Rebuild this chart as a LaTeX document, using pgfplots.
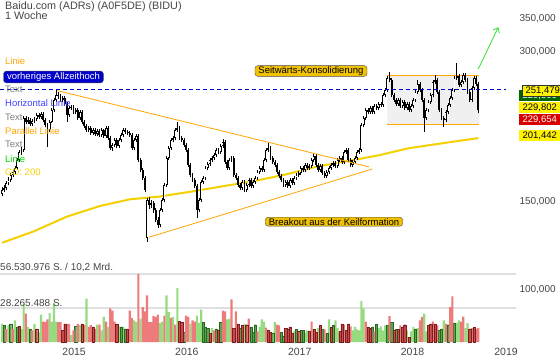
\documentclass[border=0pt]{standalone}
\usepackage{pgfplots}
\pgfplotsset{compat=1.18}
\usepackage{pgfplotstable}
\usepackage{fontspec}
\setmainfont{Liberation Sans}
\usetikzlibrary{arrows.meta}
\definecolor{gd}{HTML}{F5D000}
\definecolor{org}{HTML}{FFA500}
\definecolor{lg}{HTML}{96DC7E}
\definecolor{dg}{HTML}{55A84A}
\definecolor{dgo}{HTML}{2A6424}
\definecolor{lr}{HTML}{EE7B7B}
\definecolor{dr}{HTML}{C64A4A}
\definecolor{dro}{HTML}{7A1E1E}
\definecolor{txt}{HTML}{454545}
\definecolor{hblue}{HTML}{0000CC}
\definecolor{agreen}{HTML}{33E033}
\definecolor{boxyel}{HTML}{F2C200}
\pgfplotstableread{
i o h l c
0 156.0 160.5 154.0 158.6
1 158.6 162.0 156.8 160.1
2 160.1 165.5 158.5 163.8
3 163.8 168.0 162.0 166.1
4 166.1 171.8 164.5 169.9
5 169.9 174.2 168.0 172.3
6 172.3 177.5 170.5 175.5
7 175.5 184.0 173.8 182.1
8 182.1 191.0 180.5 188.9
9 188.9 193.0 186.5 190.7
10 190.7 223.0 189.0 221.0
11 221.0 223.5 215.0 217.0
12 217.0 221.5 215.2 219.0
13 219.0 220.8 212.8 215.0
14 215.0 220.0 213.0 218.0
15 218.0 222.3 216.0 220.0
16 220.0 226.5 218.2 224.1
17 224.1 226.0 219.8 222.0
18 222.0 227.5 220.0 225.1
19 225.1 226.8 217.0 219.0
20 219.0 220.5 211.8 214.0
21 214.0 215.5 193.5 209.1
22 209.1 218.8 207.5 217.0
23 217.0 231.0 215.5 229.3
24 229.3 242.5 227.5 240.1
25 240.1 251.5 238.0 245.7
26 245.7 249.5 241.5 244.6
27 244.6 246.5 237.8 240.1
28 240.1 244.8 238.0 242.3
29 242.3 244.0 233.5 235.7
30 235.7 237.5 217.0 224.1
31 224.1 233.5 222.0 231.4
32 231.4 235.0 229.0 232.5
33 232.5 234.3 225.0 227.2
34 227.2 231.5 225.0 229.3
35 229.3 231.0 218.8 221.0
36 221.0 229.5 219.0 227.2
37 227.2 229.0 214.8 217.0
38 217.0 218.8 210.8 213.0
39 213.0 214.8 207.0 209.1
40 209.1 213.2 207.2 211.0
41 211.0 212.5 204.2 206.2
42 206.2 211.2 204.5 209.1
43 209.1 210.8 203.0 205.2
44 205.2 210.0 203.5 208.1
45 208.1 209.8 202.2 204.3
46 204.3 211.0 202.8 209.1
47 209.1 210.5 201.5 203.4
48 203.4 213.0 201.8 211.0
49 211.0 212.5 199.5 201.5
50 201.5 203.0 190.5 192.4
51 192.4 197.0 190.0 195.1
52 195.1 201.8 193.5 199.7
53 199.7 201.2 192.0 194.2
54 194.2 201.5 192.5 199.7
55 199.7 206.2 198.0 204.3
56 204.3 211.0 202.8 209.1
57 209.1 210.8 205.3 207.2
58 207.2 209.0 204.2 206.2
59 206.2 208.0 202.5 204.3
60 204.3 206.0 190.5 192.4
61 192.4 201.5 190.8 199.7
62 199.7 205.5 197.8 203.4
63 203.4 205.0 180.0 182.1
64 182.1 183.8 172.0 173.9
65 173.9 175.5 165.8 167.6
66 167.6 169.0 156.8 158.6
67 127.0 153.0 124.8 151.4
68 151.4 153.5 145.5 148.0
69 148.0 151.2 146.0 149.3
70 149.3 150.8 142.5 144.6
71 144.6 146.0 136.5 138.1
72 138.1 139.8 133.0 134.9
73 134.9 146.2 133.5 144.6
74 144.6 153.0 143.0 151.4
75 151.4 164.0 150.0 162.3
76 162.3 185.5 161.0 183.8
77 183.8 194.3 182.0 192.4
78 192.4 201.5 190.8 199.7
79 199.7 203.6 197.8 201.5
80 201.5 211.0 199.8 209.1
81 209.1 217.0 207.0 211.0
82 211.0 212.8 199.5 201.5
83 201.5 203.4 197.8 199.7
84 199.7 201.3 193.2 195.1
85 195.1 196.8 188.8 190.7
86 190.7 192.2 176.3 178.0
87 178.0 179.5 168.2 169.9
88 169.9 171.5 164.4 166.1
89 166.1 167.6 159.9 161.6
90 161.6 163.0 139.4 144.6
91 144.6 153.0 143.0 151.4
92 151.4 166.2 150.0 164.6
93 164.6 169.2 163.0 167.6
94 167.6 177.2 166.0 175.5
95 175.5 180.5 173.8 178.8
96 178.8 183.9 177.0 182.1
97 182.1 185.6 180.3 183.8
98 183.8 188.2 182.0 186.3
99 186.3 192.5 184.5 190.7
100 190.7 192.5 187.0 188.9
101 188.9 196.0 187.2 194.2
102 194.2 200.5 192.5 197.9
103 197.9 199.5 178.7 180.4
104 180.4 182.0 173.8 175.5
105 175.5 183.8 173.9 182.1
106 182.1 185.6 180.3 183.8
107 183.8 185.3 168.2 169.9
108 169.9 171.5 166.0 167.6
109 167.6 169.2 160.7 162.3
110 162.3 164.0 158.5 160.1
111 160.1 166.2 158.5 164.6
112 164.6 166.1 157.0 158.6
113 158.6 164.0 157.0 162.3
114 162.3 167.8 160.7 166.1
115 166.1 167.6 160.0 161.6
116 161.6 166.2 160.0 164.6
117 164.6 169.2 163.0 167.6
118 167.6 174.0 166.0 172.3
119 172.3 177.2 170.6 175.5
120 175.5 177.2 172.2 173.9
121 173.9 183.9 172.2 182.1
122 182.1 192.5 180.4 190.7
123 190.7 196.9 188.8 192.4
124 192.4 194.0 182.0 183.8
125 183.8 185.5 178.7 180.4
126 180.4 182.0 176.3 178.0
127 178.0 179.6 170.6 172.3
128 172.3 174.0 167.4 169.1
129 169.1 170.7 164.4 166.1
130 166.1 167.6 160.7 162.3
131 162.3 166.2 160.7 164.6
132 164.6 166.1 160.0 161.6
133 161.6 167.7 160.0 166.1
134 166.1 167.7 162.2 163.8
135 163.8 169.2 162.2 167.6
136 167.6 171.6 166.0 169.9
137 169.9 173.2 168.2 171.5
138 171.5 177.2 169.8 175.5
139 175.5 177.2 172.2 173.9
140 173.9 179.7 172.2 178.0
141 178.0 179.7 173.8 175.5
142 175.5 178.9 173.8 177.2
143 177.2 183.9 175.5 182.1
144 182.1 187.3 180.4 185.4
145 185.4 187.0 176.3 178.0
146 178.0 179.6 172.2 173.9
147 173.9 178.9 172.2 177.2
148 177.2 178.8 169.8 171.5
149 171.5 173.2 167.4 169.1
150 169.1 174.0 167.4 172.3
151 172.3 177.2 170.6 175.5
152 175.5 179.7 173.8 178.0
153 178.0 181.4 176.3 179.6
154 179.6 181.3 175.5 177.2
155 177.2 183.9 175.5 182.1
156 182.1 185.6 180.4 183.8
157 183.8 185.5 178.7 180.4
158 180.4 190.7 178.7 188.9
159 188.9 192.6 187.0 190.7
160 190.7 192.3 180.4 182.1
161 182.1 183.7 176.3 178.0
162 178.0 182.1 176.3 180.4
163 180.4 185.6 178.7 183.8
164 183.8 190.7 182.0 188.9
165 188.9 192.6 187.0 190.7
166 190.7 216.0 189.0 214.0
167 214.0 223.2 212.0 221.0
168 221.0 231.5 219.0 229.3
169 229.3 231.5 225.0 227.2
170 227.2 233.6 225.0 231.4
171 231.4 233.5 225.0 227.2
172 227.2 235.7 225.0 233.5
173 233.5 235.7 229.2 231.4
174 231.4 238.0 229.2 235.7
175 235.7 238.0 232.4 234.6
176 234.6 248.1 232.4 245.7
177 245.7 254.0 243.3 251.5
178 251.5 268.3 249.0 265.7
179 265.7 273.5 260.7 263.3
180 263.3 265.9 243.3 245.7
181 245.7 248.1 237.7 240.1
182 240.1 242.5 233.4 235.7
183 235.7 242.5 233.4 240.1
184 240.1 242.5 231.2 233.5
185 233.5 240.3 231.2 237.9
186 237.9 240.3 229.1 231.4
187 231.4 238.0 229.1 235.7
188 235.7 238.0 227.0 229.3
189 229.3 235.8 227.0 233.5
190 233.5 242.5 231.2 240.1
191 240.1 251.7 237.7 249.2
192 249.2 263.3 246.7 258.5
193 258.5 261.1 249.0 251.5
194 251.5 254.0 237.7 240.1
195 240.1 242.5 207.2 221.0
196 221.0 231.6 218.8 229.3
197 229.3 240.3 227.0 237.9
198 237.9 248.2 235.5 245.7
199 245.7 263.5 243.3 260.9
200 260.9 269.5 258.3 263.3
201 263.3 265.9 246.7 249.2
202 249.2 251.7 227.0 229.3
203 229.3 231.6 218.8 221.0
204 221.0 223.2 212.0 219.0
205 219.0 229.5 216.8 227.2
206 227.2 237.0 224.9 234.6
207 234.6 244.7 232.3 242.3
208 242.3 254.0 239.9 251.5
209 251.5 268.4 249.0 265.7
210 265.7 284.2 263.0 268.2
211 268.2 270.9 254.7 257.3
212 257.3 263.5 254.7 260.9
213 260.9 272.2 258.3 269.5
214 269.5 272.2 260.7 263.3
215 263.3 265.9 246.7 249.2
216 249.2 251.7 237.7 240.1
217 240.1 256.3 237.7 253.8
218 253.8 268.4 251.3 265.7
219 265.7 268.4 255.9 258.5
220 258.5 261.1 226.1 229.7
}\candles
\def\wicks{}\def\bodies{}\def\ups{}
\pgfplotsforeachungrouped \r in {0,...,220}{%
  \pgfplotstablegetelem{\r}{i}\of\candles \let\vi\pgfplotsretval
  \pgfplotstablegetelem{\r}{o}\of\candles \let\vo\pgfplotsretval
  \pgfplotstablegetelem{\r}{h}\of\candles \let\vh\pgfplotsretval
  \pgfplotstablegetelem{\r}{l}\of\candles \let\vl\pgfplotsretval
  \pgfplotstablegetelem{\r}{c}\of\candles \let\vc\pgfplotsretval
  \xdef\wicks{\wicks (\vi,\vl) (\vi,\vh) (\vi,nan)}%
  \xdef\bodies{\bodies (\vi,\vo) (\vi,\vc) (\vi,nan)}%
  \pgfmathparse{\vc-\vo*1.012}%
  \ifdim\pgfmathresult pt>0pt
    \pgfmathsetmacro\ua{\vo*1.0045}\pgfmathsetmacro\ub{\vc*0.9955}%
    \xdef\ups{\ups (\vi,\ua) (\vi,\ub) (\vi,nan)}%
  \fi
}
\begin{document}
\begin{tikzpicture}[x=1pt,y=1pt]
\useasboundingbox (0,-20) rectangle (560,342);
% ---------- volume panel
\begin{axis}[scale only axis,
  width=516pt, height=342pt, xmin=-0.924, xmax=237.4, ymin=0, ymax=284.4,
  hide axis]
\addplot[line width=1.6pt, color=black!12] coordinates {(-0.924,56.53) (237.4,56.53)};
\addplot[line width=1.6pt, color=black!12] coordinates {(-0.924,28.265) (237.4,28.265)};
\addplot[ybar, bar width=1.0, bar shift=0pt, fill=lg, draw=none] coordinates {
(0,15) (3,14) (6,18) (9,11) (10,32) (12,12.5) (15,15) (17,8) (18,22.7) (22,24) (23,17) (24,32.7) (25,17) (32,6) (36,14) (39,36) (44,14.4) (46,9.7) (47,20.8) (49,12.5) (54,13) (56,12.5) (61,18) (62,16.6) (64,19.4) (73,16) (74,17) (76,38.8) (77,25) (79,20.8) (81,45) (87,15) (90,22) (91,16) (92,27) (97,11.6) (104,18.8) (105,19.4) (112,15) (119,12.5) (120,18.8) (121,17) (126,16.6) (135,8.9) (140,7.8) (141,9.7) (146,11.6) (151,18.8) (154,18) (155,11.6) (162,9.7) (163,12.5) (164,10.5) (165,9.7) (166,34) (167,28) (174,11.6) (175,13) (176,9.7) (177,13.9) (187,9.7) (189,8.9) (190,12.5) (192,11.6) (195,23.6) (196,8.9) (204,18) (210,16) (211,18) (214,11.6) (215,15.8)};
\addplot[ybar, bar width=1.0, bar shift=0pt, fill=dg, draw=dgo, line width=0.35pt] coordinates {
(1,14) (4,15) (7,12.5) (13,11) (34,13) (55,12.5) (57,11) (84,7.8) (93,16.6) (94,12.5) (95,11.6) (99,11) (101,16.6) (110,11.6) (115,12.5) (116,7.8) (117,14.4) (125,7.5) (129,8.3) (130,5) (136,10.5) (138,9.7) (139,9.7) (148,10.5) (150,7) (153,13.9) (171,12.5) (173,15) (178,13.9) (180,16.6) (182,10.5) (191,11) (202,9.7) (203,11) (206,14.4) (209,16)};
\addplot[ybar, bar width=1.0, bar shift=0pt, fill=lr, draw=none] coordinates {
(2,11) (5,11) (11,23.5) (14,9.7) (19,17) (20,16.6) (21,18.8) (26,16.6) (27,16.6) (30,15) (31,15) (33,9.7) (35,15) (38,14) (40,12.5) (41,14) (43,11) (45,14.4) (48,17) (50,28) (51,26) (52,17) (59,26) (60,20) (63,56.5) (65,29) (66,25.5) (67,38.8) (68,16.6) (69,16.6) (70,21.6) (71,20.8) (72,22.7) (75,22) (78,20) (80,14.4) (85,22) (86,20.8) (88,18) (89,17) (98,9.7) (102,26) (103,25.5) (106,35.5) (108,25.5) (114,19.4) (118,8.9) (122,12) (127,14.4) (128,13.9) (143,17) (149,10.5) (158,14.4) (161,13) (168,17) (172,8.9) (179,21.6) (184,13.9) (193,18) (194,20.8) (199,17) (201,13.9) (205,15) (207,29) (208,38) (212,17) (213,21) (217,11.6) (219,11) (220,11.6)};
\addplot[ybar, bar width=1.0, bar shift=0pt, fill=dr, draw=dro, line width=0.35pt] coordinates {
(8,13) (16,11) (28,9.7) (29,15) (37,15) (42,12.5) (53,15) (58,11) (82,17) (83,16.6) (96,7) (100,9.7) (107,11.6) (109,15) (111,13.9) (113,14.4) (123,9.7) (124,7.8) (131,11.6) (132,11) (133,12.5) (134,7) (137,8.9) (142,9.1) (144,10.5) (145,7.8) (147,13.9) (152,12.5) (156,8.9) (157,15) (159,9.7) (160,15) (169,12.5) (170,11.6) (181,9.7) (183,10.5) (185,12.5) (186,14.4) (188,4) (197,13.9) (198,15) (200,15) (216,11) (218,12)};
\end{axis}
% ---------- price panel
\begin{axis}[scale only axis,
  width=516pt, height=342pt, xmin=-0.924, xmax=237.4,
  ymode=log, ymin=78.68, ymax=380.77,
  axis line style={draw=none}, major tick length=0pt, minor tick num=0,
  tick style={draw=none}, unbounded coords=jump,
  xtick={33.3,85.4,137.5,189.6,232.8}, xticklabels={2015,2016,2017,2018,2019},
  ytick={100,150,300,350}, yticklabels={{100,000},{150,000},{300,000},{350,000}},
  yticklabel pos=right,
  tick label style={font=\fontsize{10}{12}\selectfont, text=txt},
  xticklabel style={font=\fontsize{10.5}{12}\selectfont, yshift=-2.5pt}]
% consolidation box
\addplot[fill=black!6, draw=none] coordinates {(178,214.7) (178,268.6) (220.5,268.6) (220.5,214.7) (178,214.7)};
\addplot[org, line width=0.9pt] coordinates {(178,268.6) (220.5,268.6)};
\addplot[org, line width=0.9pt] coordinates {(178,214.7) (220.5,214.7)};
% GD 200
\addplot[gd, line width=2pt] coordinates {
(0,124.3) (14.5,130.9) (29.9,140.2) (45.3,147.3) (59.1,151.9) (72.2,153.7) (87.6,157.4) (103,161.6) (114.5,164.6) (130,169.9) (145.4,176.6) (160.7,181.5) (174.6,186.3) (187.7,192.2) (203.1,196.6) (220,201.4)};
% candles
\edef\tmp{\noexpand\addplot[black, line width=0.6pt] coordinates {\wicks};}\tmp
\edef\tmp{\noexpand\addplot[black, line width=1.9pt] coordinates {\bodies};}\tmp
\edef\tmp{\noexpand\addplot[white, line width=0.75pt] coordinates {\ups};}\tmp
% lines
\addplot[hblue, line width=0.9pt, dash pattern=on 4pt off 3pt] coordinates {(-0.924,251.479) (233,251.479)};
\addplot[org, line width=0.8pt] coordinates {(25.5,250.7) (169.5,176.4)};
\addplot[org, line width=0.8pt] coordinates {(67.9,127.5) (171.1,174.7)};
\addplot[agreen, line width=0.8pt, -{Straight Barb[length=4pt,width=7pt]}] coordinates {(220,277.0) (229.2,335.7)};
\end{axis}
% ---------- texts
\node[anchor=base west, text=txt, font=\fontsize{10.8}{12}\selectfont, inner sep=0pt] at (5,332) {Baidu.com (ADRs) (A0F5DE) (BIDU)};
\node[anchor=base west, text=txt, font=\fontsize{10.8}{12}\selectfont, inner sep=0pt] at (5,322.5) {1 Woche};
\begin{scope}[every node/.style={anchor=west, inner sep=0pt, font=\fontsize{9.5}{11}\selectfont}]
\node[text=org] at (5,281) {Linie};
\node[fill=hblue, draw=black!70, rounded corners=3pt, text=white, inner xsep=3.5pt, inner ysep=1.5pt] at (3.3,265) {vorheriges Allzeithoch};
\node[text=black!50] at (5,253) {Text};
\node[text=blue!75] at (5,239) {Horizontal Linie};
\node[text=black!50] at (5,225) {Text};
\node[text=org] at (5,211.3) {Parallel Linie};
\node[text=black!50] at (5,197.3) {Text};
\node[text=green!85!black] at (5,183.3) {Linie};
\node[text=gd] at (5,169.7) {GD: 200};
\end{scope}
\node[fill=boxyel, draw=black!70, rounded corners=3pt, inner xsep=3.5pt, inner ysep=1pt, font=\fontsize{9.5}{11}\selectfont] at (311,271) {Seitwärts-Konsolidierung};
\node[fill=boxyel, draw=black!70, rounded corners=3pt, inner xsep=3.5pt, inner ysep=1pt, font=\fontsize{9.5}{11}\selectfont] at (334,120.3) {Breakout aus der Keilformation};
\node[anchor=west, inner sep=0pt, text=txt, font=\fontsize{10}{12}\selectfont] at (0,74) {56.530.976 S. / 10,2 Mrd.};
\node[anchor=west, inner sep=0pt, text=txt, font=\fontsize{10}{12}\selectfont] at (0,39.3) {28.265.488 S.};
\begin{scope}[every node/.style={anchor=west, minimum width=41pt, minimum height=11pt, inner sep=0.5pt, font=\fontsize{9.5}{11}\selectfont}]
\node[fill=green!40!black, text=white] at (519,246) {229,500};
\node[fill=yellow, draw=black!80, line width=0.6pt] at (522,251.5) {251,479};
\node[fill=yellow] at (519,234.5) {229,802};
\node[fill=red!85!black, text=white] at (519,222) {229,654};
\node[fill=yellow] at (519,206.5) {201,442};
\end{scope}
\end{tikzpicture}
\end{document}
